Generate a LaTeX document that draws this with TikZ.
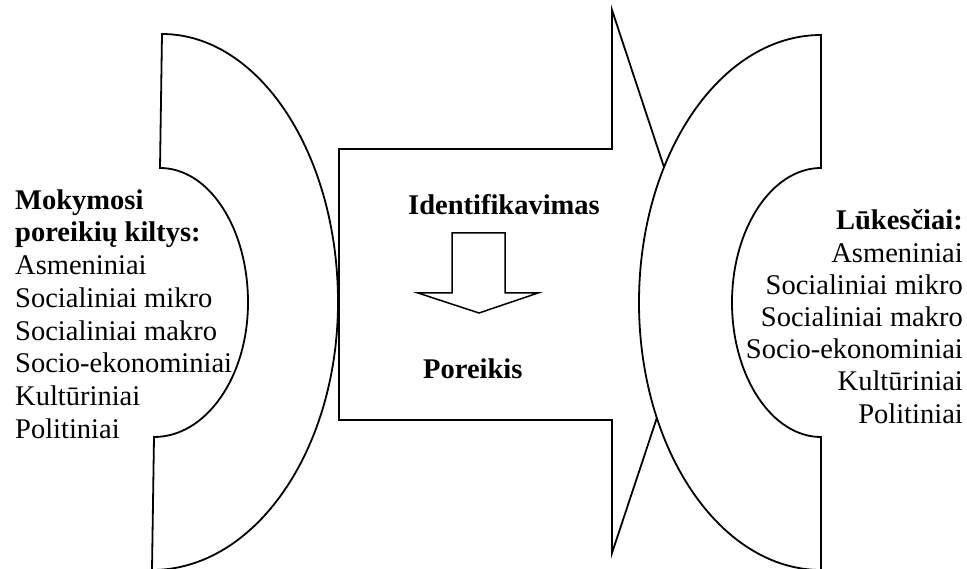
\documentclass[tikz,border=0pt]{standalone}
\usepackage{fontspec}
\setmainfont{Liberation Serif}
\usepackage{tikz}
\usetikzlibrary{positioning}

\tikzset{
  outline/.style={draw, fill=white, line width=1.8pt, line join=miter},
  txt/.style={font=\fontsize{28.5}{32.5}\selectfont, inner sep=0pt}
}

\begin{document}
\begin{tikzpicture}[x=1pt, y=-1pt]
\useasboundingbox (0,0) rectangle (967,569);

% Left bracket
\draw[outline] (162,34) .. controls (259,34) and (338,154) .. (338,302)
  .. controls (338,450) and (255,570) .. (152,570) -- (154,437)
  .. controls (206,437) and (248,377) .. (248,302.5)
  .. controls (248,228) and (209,168) .. (160,168) -- cycle;

% Big arrow
\draw[outline] (339,149) -- (612,149) -- (612,10) -- (702,282)
  -- (612,553) -- (612,420) -- (339,420) -- cycle;

% Right bracket (covers the arrow tip)
\draw[outline] (821,35) -- (821,168)
  .. controls (772,168) and (732,228.5) .. (732,302.5)
  .. controls (732,376.5) and (772,437) .. (821,437) -- (821,570)
  .. controls (720.5,570) and (639,450) .. (639,302.5)
  .. controls (639,155) and (720.5,35) .. (821,35) -- cycle;

% Small down arrow
\draw[outline, line width=1.5pt] (452,233) -- (505,233) -- (505,293) -- (538,293)
  -- (479,313) -- (418,293) -- (452,293) -- cycle;

% Left text
\node[txt, anchor=base west] (mok) at (15,210) {\bfseries Mokymosi};
\node[txt, anchor=base west] (kil) at (15,242) {\bfseries poreikių kiltys:};
\foreach \t [count=\i] in {Asmeniniai, Socialiniai mikro, Socialiniai makro,
    Socio-ekonominiai, Kultūriniai, Politiniai} {
  \node[txt, anchor=base west] (left\i) at (15,242+32.7*\i) {\t};
}

% Middle text
\node[txt, anchor=base] (ident) at (504,215) {\bfseries Identifikavimas};
\node[txt, anchor=base west] (por) at (423,379) {\bfseries Poreikis};

% Right text
\node[txt, anchor=base east] (luk) at (963,230) {\bfseries Lūkesčiai:};
\foreach \t [count=\i] in {Asmeniniai, Socialiniai mikro, Socialiniai makro,
    Socio-ekonominiai, Kultūriniai, Politiniai} {
  \node[txt, anchor=base east] (right\i) at (963,230+32.2*\i) {\t};
}
\end{tikzpicture}
\end{document}
